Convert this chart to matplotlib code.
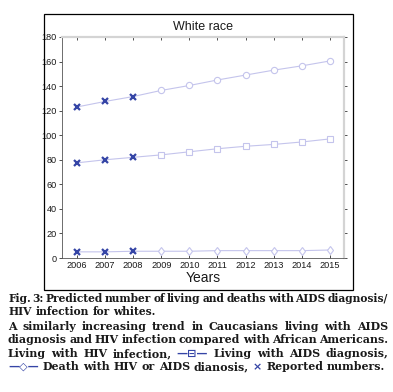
import matplotlib
matplotlib.use("Agg")
import matplotlib.pyplot as plt
from matplotlib.patches import Rectangle

years = [2006, 2007, 2008, 2009, 2010, 2011, 2012, 2013, 2014, 2015]
living_hiv = [123, 127.5, 131.5, 136.5, 140.5, 145, 149, 153, 156.5, 160.5]
living_aids = [77.5, 80, 82, 84, 86.5, 89, 91, 92.5, 94.5, 97]
deaths = [5, 5, 5.5, 5.5, 5.5, 6, 6, 6, 6, 6.5]
n_reported = 3  # first three years are reported numbers
yticks = list(range(0, 181, 20))

line_col = '#c4c4ec'
x_col = '#3545a6'
text_col = '#1a1a1a'

fig = plt.figure(figsize=(3.93, 3.92), dpi=100)
fig.patch.set_facecolor('white')

# outer frame around the chart
fig.patches.append(Rectangle((44 / 393, 102 / 392), 309 / 393, 276 / 392,
                             transform=fig.transFigure, fill=False,
                             edgecolor='black', linewidth=0.9))

ax = fig.add_axes([62 / 393, 134 / 392, 282 / 393, 221 / 392])
sans = 'Liberation Sans'

for series, mk, ms in [(living_hiv, 'o', 4.5), (living_aids, 's', 4.5), (deaths, 'd', 4.5)]:
    ax.plot(years, series, color=line_col, linewidth=0.8, zorder=2)
    ax.plot(years[n_reported:], series[n_reported:], linestyle='none', marker=mk,
            markersize=ms, markerfacecolor='white', markeredgecolor=line_col,
            markeredgewidth=0.8, zorder=3)
    ax.plot(years[:n_reported], series[:n_reported], linestyle='none', marker='x',
            markersize=5, markeredgecolor=x_col, markeredgewidth=1.6, zorder=4)

ax.set_xlim(2005.47, 2015.5)
ax.set_ylim(0, 180)
ax.set_xticks(years)
ax.set_yticks(yticks)
ax.set_xticklabels([str(y) for y in years], fontsize=6.6, family=sans, color=text_col)
ax.set_yticklabels([str(v) for v in yticks], fontsize=6.6, family=sans, color=text_col)
ax.tick_params(axis='both', which='both', direction='out', length=2, width=0.6,
               color='#333333', pad=2, top=True, right=True)
ax.tick_params(axis='x', top=True, direction='in')
ax.tick_params(axis='y', right=True)
for side in ['top', 'right']:
    ax.spines[side].set_color('#d4d4d4')
    ax.spines[side].set_linewidth(1.6)
for side in ['left', 'bottom']:
    ax.spines[side].set_color('#555555')
    ax.spines[side].set_linewidth(0.6)

ax.set_title('White race', fontsize=9, family=sans, color=text_col, pad=5)
ax.set_xlabel('Years', fontsize=10, family=sans, color=text_col, labelpad=1)

# caption below the chart
serif = ['DejaVu Serif']
glyph = ['DejaVu Sans']
renderer = fig.canvas.get_renderer()
fig_w = fig.get_figwidth() * fig.dpi


def put_line(pieces, y, x0, x1, size=7.9, justify=True):
    # pieces: list of (text, color, family)
    texts = []
    widths = []
    for s, c, fam in pieces:
        t = fig.text(0, y, s, fontsize=size, fontweight='bold', family=fam,
                     color=c, va='baseline', ha='left')
        w = t.get_window_extent(renderer=renderer).width / fig_w
        texts.append(t)
        widths.append(w)
    space = fig.text(0, 0, 'a b', fontsize=size, fontweight='bold', family=serif)
    ab = fig.text(0, 0, 'ab', fontsize=size, fontweight='bold', family=serif)
    natural = (space.get_window_extent(renderer=renderer).width
               - ab.get_window_extent(renderer=renderer).width) / fig_w
    space.remove()
    ab.remove()
    gap = natural
    if justify and len(pieces) > 1:
        gap = (x1 - x0 - sum(widths)) / (len(pieces) - 1)
    x = x0
    for t, w in zip(texts, widths):
        t.set_x(x)
        x += w + gap


def words(s, color=text_col, fam=serif):
    return [(w, color, fam) for w in s.split()]


x_left = 8 / 393
x_right = 388 / 393
base = [302, 315, 330, 343, 357, 370]
put_line(words('Fig. 3: Predicted number of living and deaths with AIDS diagnosis/'),
         1 - base[0] / 392, x_left, x_right, size=7.65)
put_line(words('HIV infection for whites.'), 1 - base[1] / 392, x_left, x_right,
         size=7.65, justify=False)
put_line(words('A similarly increasing trend in Caucasians living with AIDS'),
         1 - base[2] / 392, x_left, x_right)
put_line(words('diagnosis and HIV infection compared with African Americans.'),
         1 - base[3] / 392, x_left, x_right)
put_line(words('Living with HIV infection,') + [('—⊟—', x_col, glyph)]
         + words('Living with AIDS diagnosis,'),
         1 - base[4] / 392, x_left, x_right)
put_line([('—◇—', x_col, glyph)] + words('Death with HIV or AIDS dianosis,')
         + [('×', x_col, glyph)] + words('Reported numbers.'),
         1 - base[5] / 392, x_left, x_right, justify=False)

fig.savefig('out.png', dpi=100, facecolor='white')
